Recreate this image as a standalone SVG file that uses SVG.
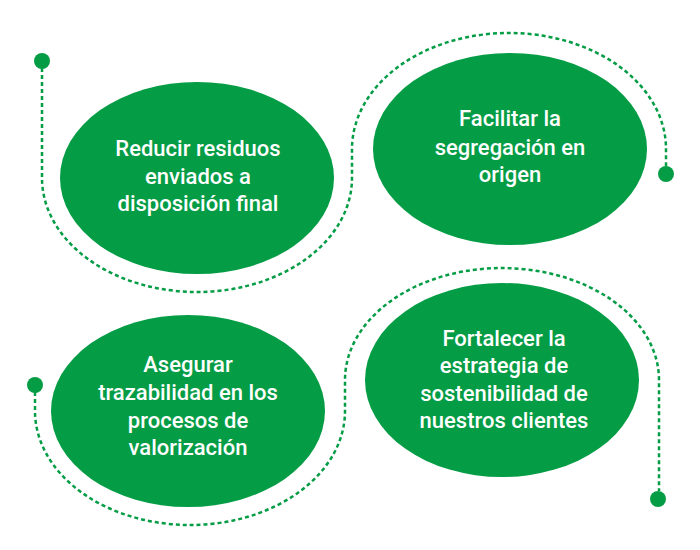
<svg xmlns="http://www.w3.org/2000/svg" width="700" height="550" viewBox="0 0 700 550">
<style>
.node ellipse{fill:#049c45}
.node text{fill:#ffffff;font-family:Roboto,"Liberation Sans",Arial,sans-serif;font-weight:500;font-size:22px;text-anchor:middle}
.conn path{fill:none;stroke:#049c45;stroke-width:2.5;stroke-dasharray:4 3}
.conn circle{fill:#049c45}
</style>
<rect width="700" height="550" fill="#ffffff"/>
<g id="connectors" class="conn">
<path d="M42,68 V178 A155,114 0 0 0 352,178 L352,149 A157,116 0 0 1 666,149 V166"/>
<path d="M35,392 V411 A155,114 0 0 0 345,411 L345,380 A157,112 0 0 1 659,380 V491"/>
<circle cx="42" cy="61" r="8"/>
<circle cx="666" cy="174" r="8"/>
<circle cx="35" cy="385" r="8"/>
<circle cx="658" cy="499" r="8"/>
</g>
<g id="node1" class="node">
<ellipse cx="197" cy="178" rx="137" ry="96"/>
<text x="198" y="156">Reducir residuos</text>
<text x="198" y="184">enviados a</text>
<text x="198" y="211">disposición final</text>
</g>
<g id="node2" class="node">
<ellipse cx="510" cy="149" rx="137" ry="96"/>
<text x="510" y="126">Facilitar la</text>
<text x="510" y="155">segregación en</text>
<text x="510" y="182">origen</text>
</g>
<g id="node3" class="node">
<ellipse cx="188" cy="411" rx="137" ry="96"/>
<text x="188" y="372">Asegurar</text>
<text x="188" y="400">trazabilidad en los</text>
<text x="188" y="428">procesos de</text>
<text x="188" y="455">valorización</text>
</g>
<g id="node4" class="node">
<ellipse cx="502" cy="380" rx="137" ry="97"/>
<text x="504" y="346">Fortalecer la</text>
<text x="504" y="373">estrategia de</text>
<text x="504" y="401">sostenibilidad de</text>
<text x="504" y="428">nuestros clientes</text>
</g>
</svg>
